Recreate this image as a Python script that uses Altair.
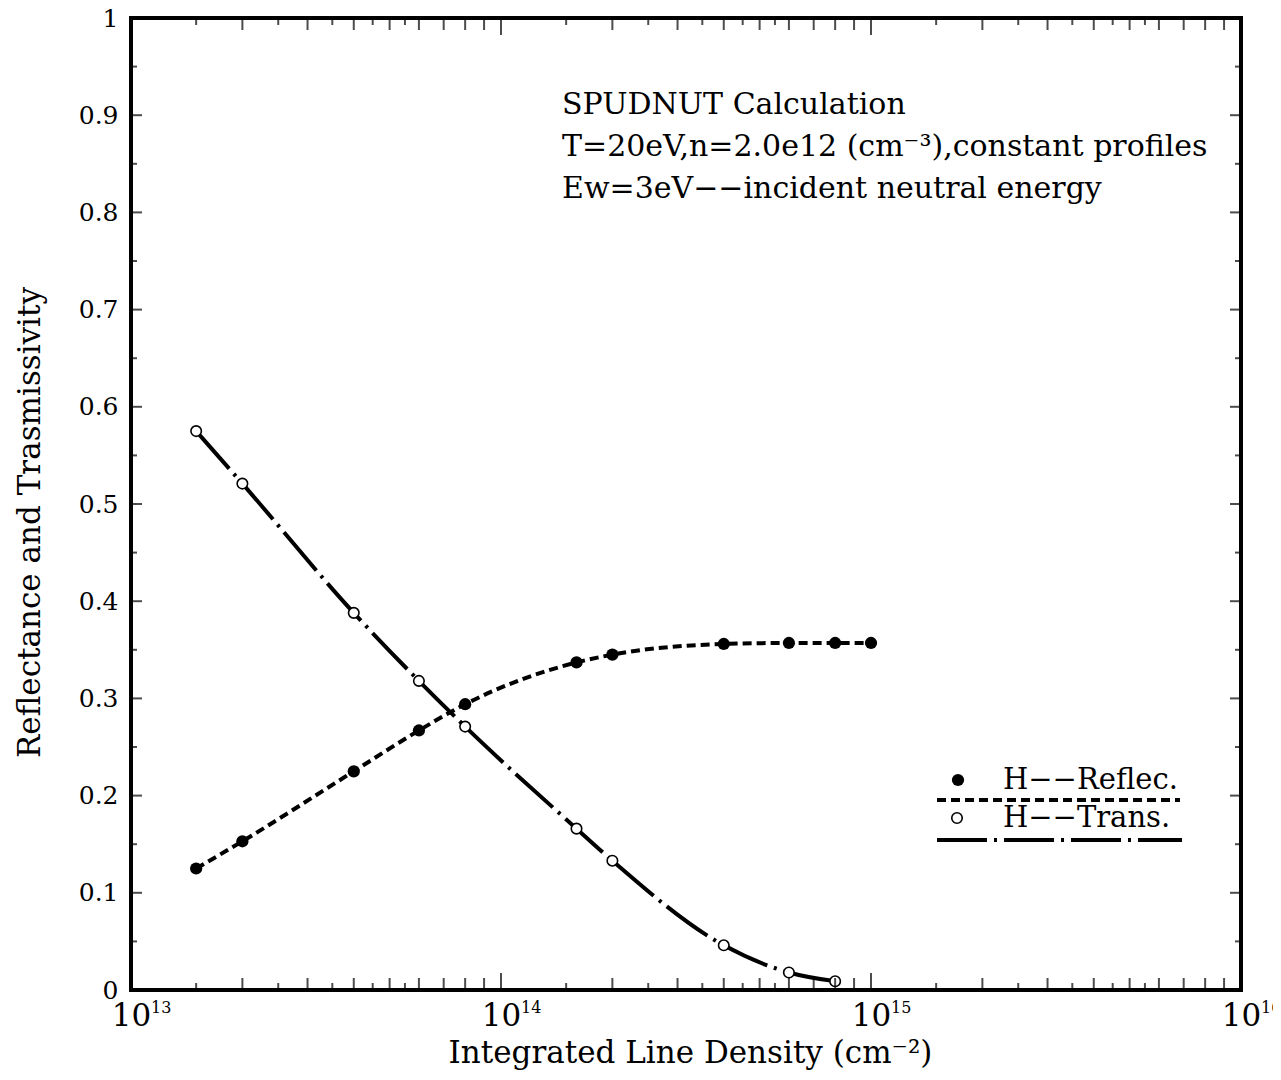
import altair as alt
import pandas as pd

# ---- data ----
density = [1.5e13, 2e13, 4e13, 6e13, 8e13, 1.6e14, 2e14, 4e14, 6e14, 8e14, 1e15]
reflectance = [0.125, 0.153, 0.225, 0.267, 0.294, 0.337, 0.345, 0.356, 0.357, 0.357, 0.357]
density_t = [1.5e13, 2e13, 4e13, 6e13, 8e13, 1.6e14, 2e14, 4e14, 6e14, 8e14]
transmission = [0.575, 0.521, 0.388, 0.318, 0.271, 0.166, 0.133, 0.046, 0.018, 0.009]

x_major = [1e13, 1e14, 1e15, 1e16]
x_exponents = ["13", "14", "15", "16"]
decades = [1e13, 1e14, 1e15]
long_mantissas = [2, 3, 4, 5, 6, 7, 8, 9]
short_mantissas = [1.5, 2.5, 3.5, 4.5, 5.5]
y_major = [0, 0.1, 0.2, 0.3, 0.4, 0.5, 0.6, 0.7, 0.8, 0.9, 1.0]
y_minor = [0.05, 0.15, 0.25, 0.35, 0.45, 0.55, 0.65, 0.75, 0.85, 0.95]

note_lines = ["SPUDNUT Calculation",
              "T=20eV,n=2.0e12 (cm\u207b\u00b3),constant profiles",
              "Ew=3eV\u2212\u2212incident neutral energy"]
legend_labels = ["H\u2212\u2212Reflec.", "H\u2212\u2212Trans."]

FONT = "DejaVu Serif"
W, H = 1110, 972

refl_df = pd.DataFrame({"x": density, "y": reflectance})
trans_df = pd.DataFrame({"x": density_t, "y": transmission})
x_long = pd.DataFrame({"x": [m * d for d in decades for m in long_mantissas]})
x_short = pd.DataFrame({"x": [m * d for d in decades for m in short_mantissas]})
x_maj_df = pd.DataFrame({"x": x_major, "e": x_exponents})
y_maj_df = pd.DataFrame({"y": y_major})
y_min_df = pd.DataFrame({"y": y_minor})

xs = alt.Scale(type="log", domain=[1e13, 1e16], nice=False)
ys = alt.Scale(domain=[0, 1], nice=False, zero=False)

x_axis = alt.Axis(values=x_major, labelExpr="'10'", ticks=False, domain=False, grid=False,
                  labelFontSize=31, labelFont=FONT, labelPadding=11, labelColor="black",
                  labelFlush=False, labelOverlap=False, labelBound=False,
                  title="Integrated Line Density (cm\u207b\u00b2)", titleFont=FONT,
                  titleFontSize=31, titleFontWeight="normal", titleColor="black",
                  titleX=559, titleY=63, titleAlign="center", titleBaseline="middle")
y_axis = alt.Axis(values=y_major, format=".1~f", ticks=False, domain=False, grid=False,
                  labelFontSize=25, labelFont=FONT, labelPadding=13, labelColor="black",
                  labelFlush=False, labelOverlap=False,
                  title="Reflectance and Trasmissivity", titleFont=FONT,
                  titleFontSize=31, titleFontWeight="normal", titleColor="black",
                  titleX=-101, titleY=H / 2 + 18, titleAngle=-90, titleAlign="center",
                  titleBaseline="middle")

X = lambda: alt.X("x:Q", scale=xs, axis=x_axis)
Y = lambda: alt.Y("y:Q", scale=ys, axis=y_axis)
XD = lambda v: alt.XDatum(v, scale=xs, axis=x_axis)
YD = lambda v: alt.YDatum(v, scale=ys, axis=y_axis)

refl_line = alt.Chart(refl_df).mark_line(interpolate="monotone", color="black",
                                         strokeWidth=4, strokeDash=[9, 5]).encode(x=X(), y=Y())
trans_line = alt.Chart(trans_df).mark_line(interpolate="monotone", color="black",
                                           strokeWidth=4, strokeDash=[50, 7, 3, 7]).encode(x=X(), y=Y())
refl_pts = alt.Chart(refl_df).mark_circle(size=150, color="black", opacity=1).encode(x=X(), y=Y())
trans_pts = alt.Chart(trans_df).mark_circle(size=110, color="white", stroke="black",
                                            strokeWidth=1.6, opacity=1).encode(x=X(), y=Y())


def xticks(df, length, at_top):
    off = length / 2 if at_top else -length / 2
    return alt.Chart(df).mark_tick(orient="vertical", size=length, thickness=2,
                                   color="black", yOffset=off).encode(
        x=X(), y=YD(1 if at_top else 0))


def yticks(df, length, at_right):
    off = -length / 2 if at_right else length / 2
    return alt.Chart(df).mark_tick(orient="horizontal", size=length, thickness=2,
                                   color="black", xOffset=off).encode(
        y=Y(), x=XD(1e16 if at_right else 1e13))


ticks = [
    xticks(x_maj_df, 17, False), xticks(x_maj_df, 17, True),
    xticks(x_long, 12, False), xticks(x_long, 12, True),
    xticks(x_short, 7, False), xticks(x_short, 7, True),
    yticks(y_maj_df, 11, False), yticks(y_maj_df, 11, True),
    yticks(y_min_df, 6, False), yticks(y_min_df, 6, True),
]

exps = alt.Chart(x_maj_df).mark_text(align="left", baseline="middle", dx=20, dy=18,
                                     fontSize=16, font=FONT, color="black").encode(
    x=X(), y=YD(0), text="e:N")

note = alt.Chart(pd.DataFrame({"t": ["\n".join(note_lines)]})).mark_text(
    align="left", baseline="middle", lineBreak="\n", lineHeight=42, fontSize=30,
    font=FONT, color="black").encode(x=alt.value(431), y=alt.value(87), text="t:N")

one = pd.DataFrame({"k": [0]})
leg_dot = alt.Chart(one).mark_circle(size=150, color="black", opacity=1).encode(
    x=alt.value(827), y=alt.value(762))
leg_txt1 = alt.Chart(one).mark_text(align="left", baseline="middle", fontSize=29, font=FONT,
                                    color="black").encode(
    x=alt.value(872), y=alt.value(762), text=alt.value(legend_labels[0]))
leg_line1 = alt.Chart(one).mark_rule(color="black", strokeWidth=4, strokeDash=[9, 5]).encode(
    x=alt.value(806), x2=alt.value(1049), y=alt.value(782))
leg_circ = alt.Chart(one).mark_circle(size=110, color="white", stroke="black", strokeWidth=1.6,
                                      opacity=1).encode(x=alt.value(826), y=alt.value(800))
leg_txt2 = alt.Chart(one).mark_text(align="left", baseline="middle", fontSize=29, font=FONT,
                                    color="black").encode(
    x=alt.value(872), y=alt.value(800), text=alt.value(legend_labels[1]))
leg_line2 = alt.Chart(one).mark_rule(color="black", strokeWidth=4,
                                     strokeDash=[50, 7, 3, 7]).encode(
    x=alt.value(806), x2=alt.value(1051), y=alt.value(822))

chart = alt.layer(
    refl_line, trans_line, refl_pts, trans_pts, *ticks, exps, note,
    leg_dot, leg_txt1, leg_line1, leg_circ, leg_txt2, leg_line2
).properties(
    width=W, height=H,
    autosize=alt.AutoSizeParams(type="none"),
    padding={"left": 123, "top": 10, "right": 32, "bottom": 82},
).configure(font=FONT, background="white").configure_view(
    stroke="black", strokeWidth=4
)

chart.save("out.html", embed_options={"renderer": "svg", "actions": False})
